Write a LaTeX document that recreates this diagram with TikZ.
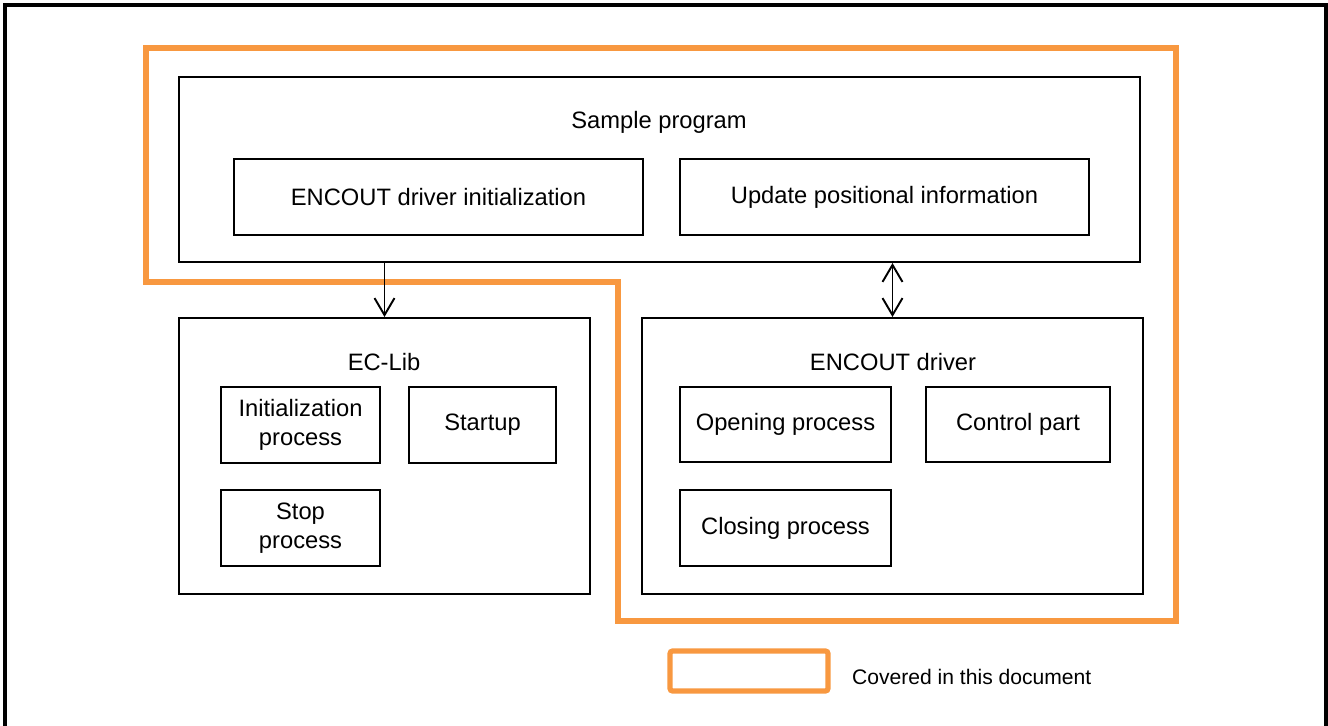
\documentclass[tikz,border=0pt]{standalone}
\usepackage{fontspec}
\setmainfont{Liberation Sans}
\usetikzlibrary{arrows.meta}

\definecolor{scopeorange}{RGB}{248,152,64}

\begin{document}
\begin{tikzpicture}[x=0.02cm, y=-0.02cm,
    every node/.style={font=\fontsize{13.5}{16.5}\selectfont},
    box/.style={draw, line width=1.2pt, inner sep=0pt, align=center},
    arr/.style={line width=1.1pt, -{Straight Barb[length=3.4mm, width=4mm]}},
    dblarr/.style={line width=1.1pt, {Straight Barb[length=3.4mm, width=4mm]}-{Straight Barb[length=3.4mm, width=4mm]}},
    covered/.style={draw=scopeorange, line width=3pt}]
    \useasboundingbox (0,0) rectangle (1328,726);
    \draw[line width=2pt] (5,740) -- (5,5) -- (1326,5) -- (1326,740);

    % scope of this document
    \draw[covered] (146,48) -- (1176,48) -- (1176,621) -- (618,621) -- (618,282) -- (146,282) -- cycle;

    \node[box, minimum width=19.22cm, minimum height=3.7cm] (sample) at (659.5,169.5) {};
    \node (sampletitle) at (659,122) {Sample program};
    \node[box, minimum width=8.18cm, minimum height=1.52cm] (drvinit) at (438.5,197) {ENCOUT driver initialization};
    \node[box, minimum width=8.18cm, minimum height=1.52cm] (update) at (884.5,197) {Update positional information};

    \node[box, minimum width=8.22cm, minimum height=5.52cm] (eclib) at (384.5,456) {};
    \node (ecltitle) at (384,362) {EC-Lib};
    \node[box, minimum width=3.18cm, minimum height=1.52cm] (initproc) at (300.5,425) {Initialization\\process};
    \node[box, minimum width=2.94cm, minimum height=1.52cm] (startup) at (482.5,425) {Startup};
    \node[box, minimum width=3.18cm, minimum height=1.52cm] (stopproc) at (300.5,528) {Stop\\process};

    \node[box, minimum width=10.02cm, minimum height=5.52cm] (driver) at (892.5,456) {};
    \node (drvtitle) at (893,362) {ENCOUT driver};
    \node[box, minimum width=4.22cm, minimum height=1.5cm] (opening) at (785.5,424.5) {Opening process};
    \node[box, minimum width=3.68cm, minimum height=1.5cm] (control) at (1018,424.5) {Control part};
    \node[box, minimum width=4.22cm, minimum height=1.52cm] (closing) at (785.5,528) {Closing process};

    \draw[arr] (sample.south -| eclib.north) -- (eclib.north);
    \draw[dblarr] (sample.south -| driver.north) -- (driver.north);

    % legend
    \node[covered, rounded corners=1.5pt, minimum width=3.16cm, minimum height=0.8cm] (legend) at (749,671) {};
    \node[anchor=west, font=\fontsize{12}{14}\selectfont] (legendtext) at (846,677) {Covered in this document};
\end{tikzpicture}
\end{document}
